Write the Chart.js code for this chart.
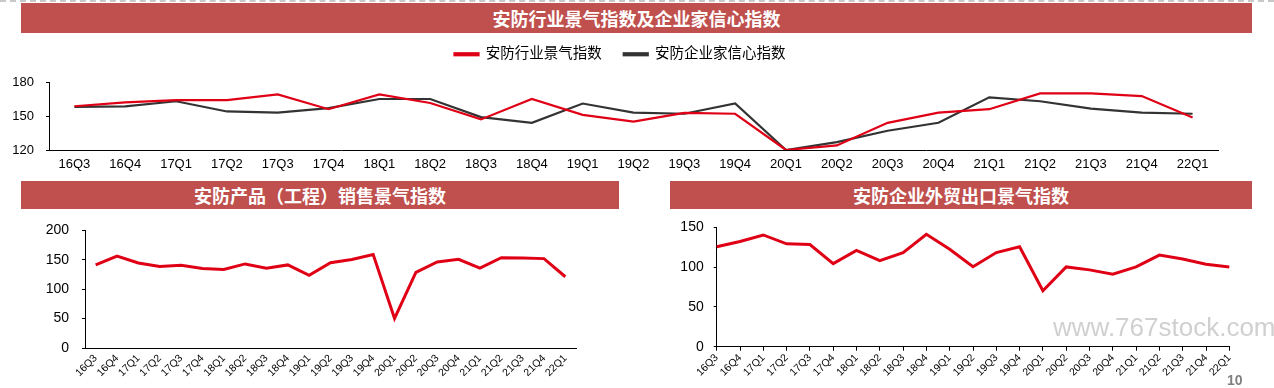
<!DOCTYPE html>
<html>
<head>
<meta charset="utf-8">
<script src="https://cdn.jsdelivr.net/npm/chart.js@4.4.0/dist/chart.umd.min.js"></script>
<style>
body { margin: 0; width: 1274px; height: 388px; background: #fff; position: relative; overflow: hidden; font-family: "Noto Sans CJK SC", sans-serif; }
.bar { position: absolute; background: #C0504D; color: #fff; font-weight: bold; font-size: 18px; text-align: center; z-index: 2; }
.dash { position: absolute; left: 0; top: 0; width: 1274px; border-top: 2px dashed #c8c8c8; }
canvas { position: absolute; }
#mark { position: absolute; left: 1053px; top: 312px; font-family: "Liberation Sans", sans-serif; font-size: 26px; color: #d0d0d0; white-space: nowrap; }
#page { position: absolute; left: 1227px; top: 372px; font-family: "Liberation Sans", sans-serif; font-size: 14px; font-weight: bold; color: #808080; }
</style>
</head>
<body>
<div class="dash"></div>
<div class="bar" style="left:21px;top:3px;width:1231px;height:30px;line-height:30px;">安防行业景气指数及企业家信心指数</div>
<div class="bar" style="left:21px;top:181px;width:598px;height:28px;line-height:28px;">安防产品（工程）销售景气指数</div>
<div class="bar" style="left:670px;top:181px;width:582px;height:28px;line-height:28px;">安防企业外贸出口景气指数</div>

<canvas id="topChart" width="1240" height="153" style="left:0;top:25px;"></canvas>
<canvas id="productChart" width="570" height="179" style="left:20px;top:209px;"></canvas>
<canvas id="exportChart" width="620" height="179" style="left:640px;top:209px;"></canvas>

<div id="mark">www.767stock.com</div>
<div id="page">10</div>

<script>
const quarters = ['16Q3', '16Q4', '17Q1', '17Q2', '17Q3', '17Q4', '18Q1', '18Q2', '18Q3', '18Q4',
    '19Q1', '19Q2', '19Q3', '19Q4', '20Q1', '20Q2', '20Q3', '20Q4', '21Q1', '21Q2', '21Q3', '21Q4', '22Q1'];

// 安防行业景气指数 / 安防企业家信心指数
const industryIndex = [158.6, 162, 164, 164, 169, 156, 169, 161.5, 147, 165, 151, 145, 152.7, 152,
    120, 124, 144, 153, 156, 170, 170, 167.6, 148.6];
const confidenceIndex = [158, 158.5, 163, 154, 153, 157, 165, 165, 149, 144, 161, 153, 152, 161,
    120, 127, 137, 144, 166.5, 163, 156.5, 153, 152];

// 安防产品（工程）销售景气指数
const productIndex = [141.3, 156.4, 144.7, 138.5, 140.8, 135.2, 133.5, 143, 135.8, 141.3, 123.5, 145,
    150.5, 159, 50.3, 128.5, 146.4, 150.8, 135.8, 153.6, 153, 152, 121.2];

// 安防企业外贸出口景气指数
const exportIndex = [125.6, 132.2, 140.5, 129.3, 128.5, 104.4, 121, 108.2, 118.1, 141.3, 122.6, 100.5,
    118.4, 125.6, 70.4, 100.3, 96.6, 91.2, 100.3, 115.2, 110.2, 103.6, 100.3];

const topTicks = [120, 150, 180];
const productTicks = [0, 50, 100, 150, 200];
const exportTicks = [0, 50, 100, 150];

const RED = '#E00016';
const DARK = '#333333';

Chart.defaults.font.family = '"Liberation Sans", "Noto Sans CJK SC", Arial, sans-serif';
Chart.defaults.color = '#000';
Chart.defaults.animation = false;

// a bit more room between the legend and the plot
const legendGap = {
    id: 'legendGap',
    beforeInit(chart) {
        const fit = chart.legend.fit;
        chart.legend.fit = function() {
            fit.bind(chart.legend)();
            this.height += 10.5;
        };
    }
};

document.addEventListener('DOMContentLoaded', function() {
    new Chart(document.getElementById('topChart').getContext('2d'), {
        type: 'line',
        data: {
            labels: quarters,
            datasets: [{
                label: '安防行业景气指数',
                data: industryIndex,
                borderColor: RED,
                backgroundColor: RED,
                borderWidth: 2.2,
                pointRadius: 0
            }, {
                label: '安防企业家信心指数',
                data: confidenceIndex,
                borderColor: DARK,
                backgroundColor: DARK,
                borderWidth: 2.2,
                pointRadius: 0
            }]
        },
        plugins: [legendGap],
        options: {
            responsive: false,
            layout: { padding: 0 },
            plugins: {
                legend: {
                    labels: { boxWidth: 24, boxHeight: 2, padding: 22, font: { size: 14.5 }, color: '#000' }
                },
                tooltip: { enabled: false }
            },
            scales: {
                x: {
                    offset: true,
                    grid: { display: false, drawTicks: false },
                    border: { display: true, color: '#000', width: 1 },
                    ticks: { padding: 7, font: { size: 13 }, maxRotation: 0, autoSkip: false },
                    afterFit: function(s) { s.height = 28; }
                },
                y: {
                    min: 120,
                    max: 180,
                    afterBuildTicks: function(s) { s.ticks = topTicks.map(v => ({ value: v })); },
                    grid: { drawOnChartArea: false, drawTicks: true, tickLength: 3, color: '#000' },
                    border: { display: true, color: '#000', width: 1 },
                    ticks: { padding: 12, font: { size: 13 } },
                    afterFit: function(s) { s.width = 49; }
                },
                // empty right-hand box, keeps the plot off the right edge
                yRight: {
                    position: 'right',
                    grid: { display: false, drawTicks: false },
                    border: { display: false },
                    ticks: { display: false },
                    afterFit: function(s) { s.width = 22; }
                }
            }
        }
    });

    new Chart(document.getElementById('productChart').getContext('2d'), {
        type: 'line',
        data: {
            labels: quarters,
            datasets: [{
                label: '安防产品（工程）销售景气指数',
                data: productIndex,
                borderColor: RED,
                borderWidth: 3,
                pointRadius: 0
            }]
        },
        options: {
            responsive: false,
            layout: { padding: { left: 0, right: 14, top: 20, bottom: 0 } },
            plugins: { legend: { display: false }, tooltip: { enabled: false } },
            scales: {
                x: {
                    offset: true,
                    grid: { display: false, drawTicks: false },
                    border: { display: true, color: '#000', width: 1 },
                    ticks: { padding: 4, font: { size: 10.5 }, minRotation: 45, maxRotation: 45, autoSkip: false },
                    afterFit: function(s) { s.height = 40; }
                },
                y: {
                    min: 0,
                    max: 200,
                    afterBuildTicks: function(s) { s.ticks = productTicks.map(v => ({ value: v })); },
                    grid: { drawOnChartArea: false, drawTicks: true, tickLength: 3, color: '#000' },
                    border: { display: true, color: '#000', width: 1 },
                    ticks: { padding: 13, font: { size: 14 } },
                    afterFit: function(s) { s.width = 65; }
                }
            }
        }
    });

    new Chart(document.getElementById('exportChart').getContext('2d'), {
        type: 'line',
        data: {
            labels: quarters,
            datasets: [{
                label: '安防企业外贸出口景气指数',
                data: exportIndex,
                borderColor: RED,
                borderWidth: 3,
                pointRadius: 0
            }]
        },
        options: {
            responsive: false,
            layout: { padding: { left: 0, right: 30.7, top: 17, bottom: 0 } },
            plugins: { legend: { display: false }, tooltip: { enabled: false } },
            scales: {
                x: {
                    offset: false,
                    grid: { drawOnChartArea: false, drawTicks: true, tickLength: 4, color: '#000' },
                    border: { display: true, color: '#000', width: 1 },
                    ticks: { padding: 1, font: { size: 10.5 }, minRotation: 45, maxRotation: 45, autoSkip: false },
                    afterFit: function(s) { s.height = 41.3; }
                },
                y: {
                    min: 0,
                    max: 150,
                    afterBuildTicks: function(s) { s.ticks = exportTicks.map(v => ({ value: v })); },
                    grid: { drawOnChartArea: false, drawTicks: true, tickLength: 3, color: '#000' },
                    border: { display: true, color: '#000', width: 1 },
                    ticks: { padding: 10, font: { size: 14 } },
                    afterFit: function(s) { s.width = 76.7; }
                }
            }
        }
    });
});
</script>
</body>
</html>
